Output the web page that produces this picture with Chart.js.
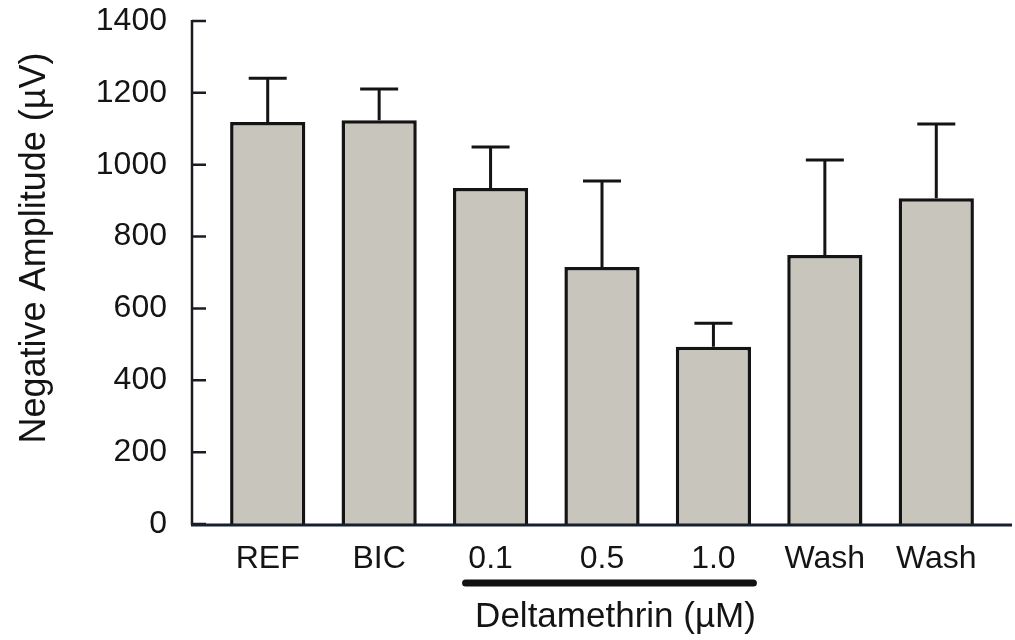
<!DOCTYPE html>
<html>
<head>
<meta charset="utf-8">
<script src="https://cdn.jsdelivr.net/npm/chart.js@4.4.1/dist/chart.umd.min.js"></script>
<style>
  html, body { margin: 0; padding: 0; background: #ffffff; }
  #wrap { width: 1015px; height: 640px; }
</style>
</head>
<body>
<div id="wrap"><canvas id="c" width="1015" height="640"></canvas></div>
<script>
// Conditions along the x axis
const categories = ['REF', 'BIC', '0.1', '0.5', '1.0', 'Wash', 'Wash'];
// Mean negative amplitude (µV) per condition
const amplitudeMean = [1119, 1124, 935, 715, 493, 749, 907];
// Standard error (upper whisker) per condition
const amplitudeSem = [122, 87, 114, 240, 66, 264, 206];
// Y axis ticks
const yTicks = [0, 200, 400, 600, 800, 1000, 1200, 1400];
// Indices of the deltamethrin doses spanned by the bracket
const doseRange = [2, 4];

const FONT = "'Liberation Sans', Arial, Helvetica, sans-serif";
const INK = '#141414';

const figurePlugin = {
  id: 'figureDecor',
  afterDatasetsDraw(chart) {
    const ctx = chart.ctx;
    const meta = chart.getDatasetMeta(0);
    const y = chart.scales.y;
    ctx.save();
    ctx.strokeStyle = INK;
    ctx.lineWidth = 3;
    ctx.lineCap = 'butt';
    meta.data.forEach((bar, i) => {
      const top = y.getPixelForValue(amplitudeMean[i]);
      const tip = y.getPixelForValue(amplitudeMean[i] + amplitudeSem[i]);
      const half = 19;
      ctx.beginPath();
      ctx.moveTo(bar.x, top);
      ctx.lineTo(bar.x, tip);
      ctx.moveTo(bar.x - half, tip);
      ctx.lineTo(bar.x + half, tip);
      ctx.stroke();
    });
    ctx.restore();
  },
  afterDraw(chart) {
    const ctx = chart.ctx;
    const area = chart.chartArea;
    const x = chart.scales.x;
    const y = chart.scales.y;
    const axisX = area.left - 20;
    const axisEnd = area.right + 20;
    const base = y.getPixelForValue(0);
    ctx.save();
    // y axis line with inward ticks
    ctx.strokeStyle = '#1b1b22';
    ctx.lineWidth = 2.5;
    ctx.beginPath();
    ctx.moveTo(axisX, y.getPixelForValue(yTicks[yTicks.length - 1]) - 1);
    ctx.lineTo(axisX, base + 1);
    yTicks.forEach(v => {
      const py = y.getPixelForValue(v);
      ctx.moveTo(axisX, py);
      ctx.lineTo(axisX + 14, py);
    });
    ctx.stroke();
    // x axis line
    ctx.strokeStyle = '#17202e';
    ctx.lineWidth = 3;
    ctx.beginPath();
    ctx.moveTo(axisX - 1, base + 1);
    ctx.lineTo(axisEnd, base + 1);
    ctx.stroke();

    // bracket under the deltamethrin doses
    const x0 = x.getPixelForValue(doseRange[0]) - 25;
    const x1 = x.getPixelForValue(doseRange[1]) + 40;
    ctx.strokeStyle = '#111111';
    ctx.lineWidth = 7;
    ctx.lineCap = 'round';
    ctx.beginPath();
    ctx.moveTo(x0, 583);
    ctx.lineTo(x1, 583);
    ctx.stroke();
    ctx.fillStyle = INK;
    ctx.font = '35px ' + FONT;
    ctx.textAlign = 'center';
    ctx.textBaseline = 'alphabetic';
    ctx.fillText('Deltamethrin (µM)', (x0 + x1) / 2 + 6, 627);

    // y axis title
    ctx.translate(45, 248);
    ctx.rotate(-Math.PI / 2);
    ctx.font = '36px ' + FONT;
    ctx.textAlign = 'center';
    ctx.textBaseline = 'alphabetic';
    ctx.fillText('Negative Amplitude (µV)', 0, 0);
    ctx.restore();
  }
};

new Chart(document.getElementById('c'), {
  type: 'bar',
  data: {
    labels: categories,
    datasets: [{
      data: amplitudeMean,
      backgroundColor: '#c8c5bd',
      borderColor: INK,
      borderWidth: 3.5,
      borderSkipped: 'bottom',
      barPercentage: 0.675,
      categoryPercentage: 1.0
    }]
  },
  options: {
    responsive: false,
    animation: false,
    devicePixelRatio: 1,
    layout: { padding: { top: 21, right: 23, bottom: 0, left: 0 } },
    plugins: {
      legend: { display: false },
      tooltip: { enabled: false }
    },
    scales: {
      x: {
        grid: { display: false, drawTicks: false },
        border: { display: false },
        ticks: {
          color: INK,
          font: { family: FONT, size: 32 },
          padding: 16,
          maxRotation: 0,
          autoSkip: false
        },
        afterFit(scale) {
          scale.height = 116;
          scale.paddingLeft = 0;
          scale.paddingRight = 0;
        }
      },
      y: {
        min: 0,
        max: 1400,
        grid: { display: false, drawTicks: false },
        border: { display: false },
        afterBuildTicks(scale) {
          scale.ticks = yTicks.map(v => ({ value: v }));
        },
        ticks: {
          color: INK,
          font: { family: FONT, size: 32 },
          padding: 45,
          callback: (v) => String(v)
        },
        afterFit(scale) {
          scale.width = 212;
          scale.paddingTop = 0;
          scale.paddingBottom = 0;
        }
      }
    }
  },
  plugins: [figurePlugin]
});
</script>
</body>
</html>
